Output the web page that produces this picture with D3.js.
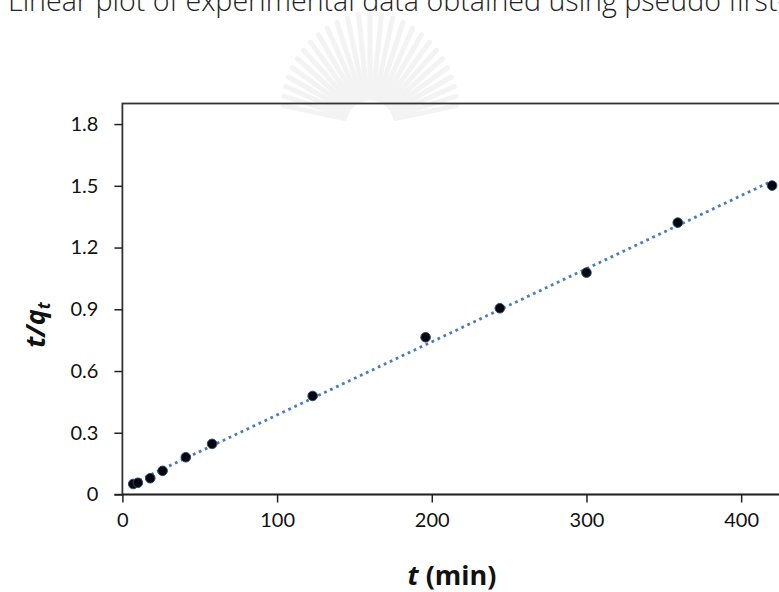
<!DOCTYPE html>
<html>
<head>
<meta charset="utf-8">
<script src="https://cdn.jsdelivr.net/npm/d3@7/dist/d3.min.js"></script>
<style>
  body { margin: 0; background: #fff; }
  svg { display: block; }
</style>
</head>
<body>
<svg id="chart" width="779" height="592"></svg>
<script>
// ---- data ----
var timeValues = [7, 10, 18, 26, 41, 58, 123, 196, 244, 300, 359, 420];
var tqValues   = [0.051, 0.057, 0.079, 0.115, 0.181, 0.246, 0.479, 0.764, 0.905, 1.078, 1.321, 1.501];
var xTicks = [0, 100, 200, 300, 400];
var yTicks = [0, 0.3, 0.6, 0.9, 1.2, 1.5, 1.8];
var yTickLabels = ["0", "0.3", "0.6", "0.9", "1.2", "1.5", "1.8"];
var titleText = "Linear plot of experimental data obtained using pseudo first-order kinetic model";

var svg = d3.select("#chart");

// plot area (right edge runs off the page, like the cropped original)
var plot = { left: 122.4, top: 103.5, bottom: 494.5, right: 818.5 };

var xScale = d3.scaleLinear().domain([0, 450]).range([plot.left, plot.right]);
var yScale = d3.scaleLinear().domain([0, 1.9]).range([plot.bottom, plot.top]);

// faint watermark fan behind the title
var wm = svg.append("g").attr("transform", "translate(370,124)");
var rays = d3.range(-78, 79, 6);
wm.selectAll("path.ray")
    .data(rays)
  .enter().append("path")
    .attr("class", "ray")
    .attr("d", function(a) {
      var r = a * Math.PI / 180;
      var len = 112 - Math.abs(a) * 0.3;
      var x0 = Math.sin(r) * 26, y0 = -Math.cos(r) * 26;
      var x1 = Math.sin(r) * len, y1 = -Math.cos(r) * len;
      return "M" + x0 + "," + y0 + "L" + x1 + "," + y1;
    })
    .style("stroke", "#f3f3f3")
    .style("stroke-width", 5)
    .style("stroke-linecap", "round");

// title line, cut off at the top edge
svg.append("text")
    .attr("x", 8)
    .attr("y", 11)
    .style("font-family", "'Open Sans', 'Noto Sans', sans-serif")
    .style("font-weight", 300)
    .style("font-size", "28.6px")
    .style("fill", "#222")
    .text(titleText);

// frame
svg.append("rect")
    .attr("x", plot.left)
    .attr("y", plot.top)
    .attr("width", plot.right - plot.left)
    .attr("height", plot.bottom - plot.top)
    .style("fill", "none")
    .style("stroke", "#333")
    .style("stroke-width", 1.8);

// axes
var xAxis = svg.append("g")
    .attr("transform", "translate(0," + plot.bottom + ")")
    .call(d3.axisBottom(xScale).tickValues(xTicks).tickSize(8).tickPadding(10));

var yAxis = svg.append("g")
    .attr("transform", "translate(" + plot.left + ",0)")
    .call(d3.axisLeft(yScale).tickValues(yTicks).tickSize(8).tickPadding(16)
      .tickFormat(function(d, i) { return yTickLabels[i]; }));

[xAxis, yAxis].forEach(function(ax) {
  ax.select(".domain").remove();
  ax.selectAll(".tick line").style("stroke", "#222").style("stroke-width", 1.5);
  ax.selectAll(".tick text")
      .style("font-family", "Lato, 'Open Sans', sans-serif")
      .style("font-size", "20px")
      .style("fill", "#111");
});
// bottom axis line runs a bit left past the y axis
svg.append("line")
    .attr("x1", plot.left - 8).attr("x2", plot.right)
    .attr("y1", plot.bottom).attr("y2", plot.bottom)
    .style("stroke", "#222").style("stroke-width", 1.6);

// linear trend line (least squares through the points)
var n = timeValues.length;
var mx = d3.mean(timeValues), my = d3.mean(tqValues);
var sxy = 0, sxx = 0;
for (var i = 0; i < n; i++) {
  sxy += (timeValues[i] - mx) * (tqValues[i] - my);
  sxx += (timeValues[i] - mx) * (timeValues[i] - mx);
}
var slope = sxy / sxx, intercept = my - slope * mx;
var tMin = d3.min(timeValues), tMax = d3.max(timeValues);

svg.append("line")
    .attr("x1", xScale(tMin)).attr("y1", yScale(intercept + slope * tMin))
    .attr("x2", xScale(tMax)).attr("y2", yScale(intercept + slope * tMax))
    .style("stroke", "#4a7ebb")
    .style("stroke-width", 2.8)
    .style("stroke-dasharray", "2.8,3.8");

// data points
svg.selectAll("circle.pt")
    .data(timeValues)
  .enter().append("circle")
    .attr("class", "pt")
    .attr("cx", function(d) { return xScale(d); })
    .attr("cy", function(d, i) { return yScale(tqValues[i]); })
    .attr("r", 4.8)
    .style("fill", "#05070d")
    .style("stroke", "#2c4a78")
    .style("stroke-width", 1);

// axis titles
var yTitle = svg.append("text")
    .attr("transform", "translate(45,325) rotate(-90)")
    .attr("text-anchor", "middle")
    .style("font-family", "'Open Sans', 'Noto Sans', sans-serif")
    .style("font-weight", "bold")
    .style("font-style", "italic")
    .style("font-size", "27px")
    .style("fill", "#111");
yTitle.append("tspan").text("t/q");
yTitle.append("tspan").attr("dy", 5).style("font-size", "17px").text("t");

var xTitle = svg.append("text")
    .attr("x", 452)
    .attr("y", 585)
    .attr("text-anchor", "middle")
    .style("font-family", "'Open Sans', 'Noto Sans', sans-serif")
    .style("font-weight", "bold")
    .style("font-size", "27px")
    .style("fill", "#111");
xTitle.append("tspan").style("font-style", "italic").text("t");
xTitle.append("tspan").text(" (min)");
</script>
</body>
</html>
